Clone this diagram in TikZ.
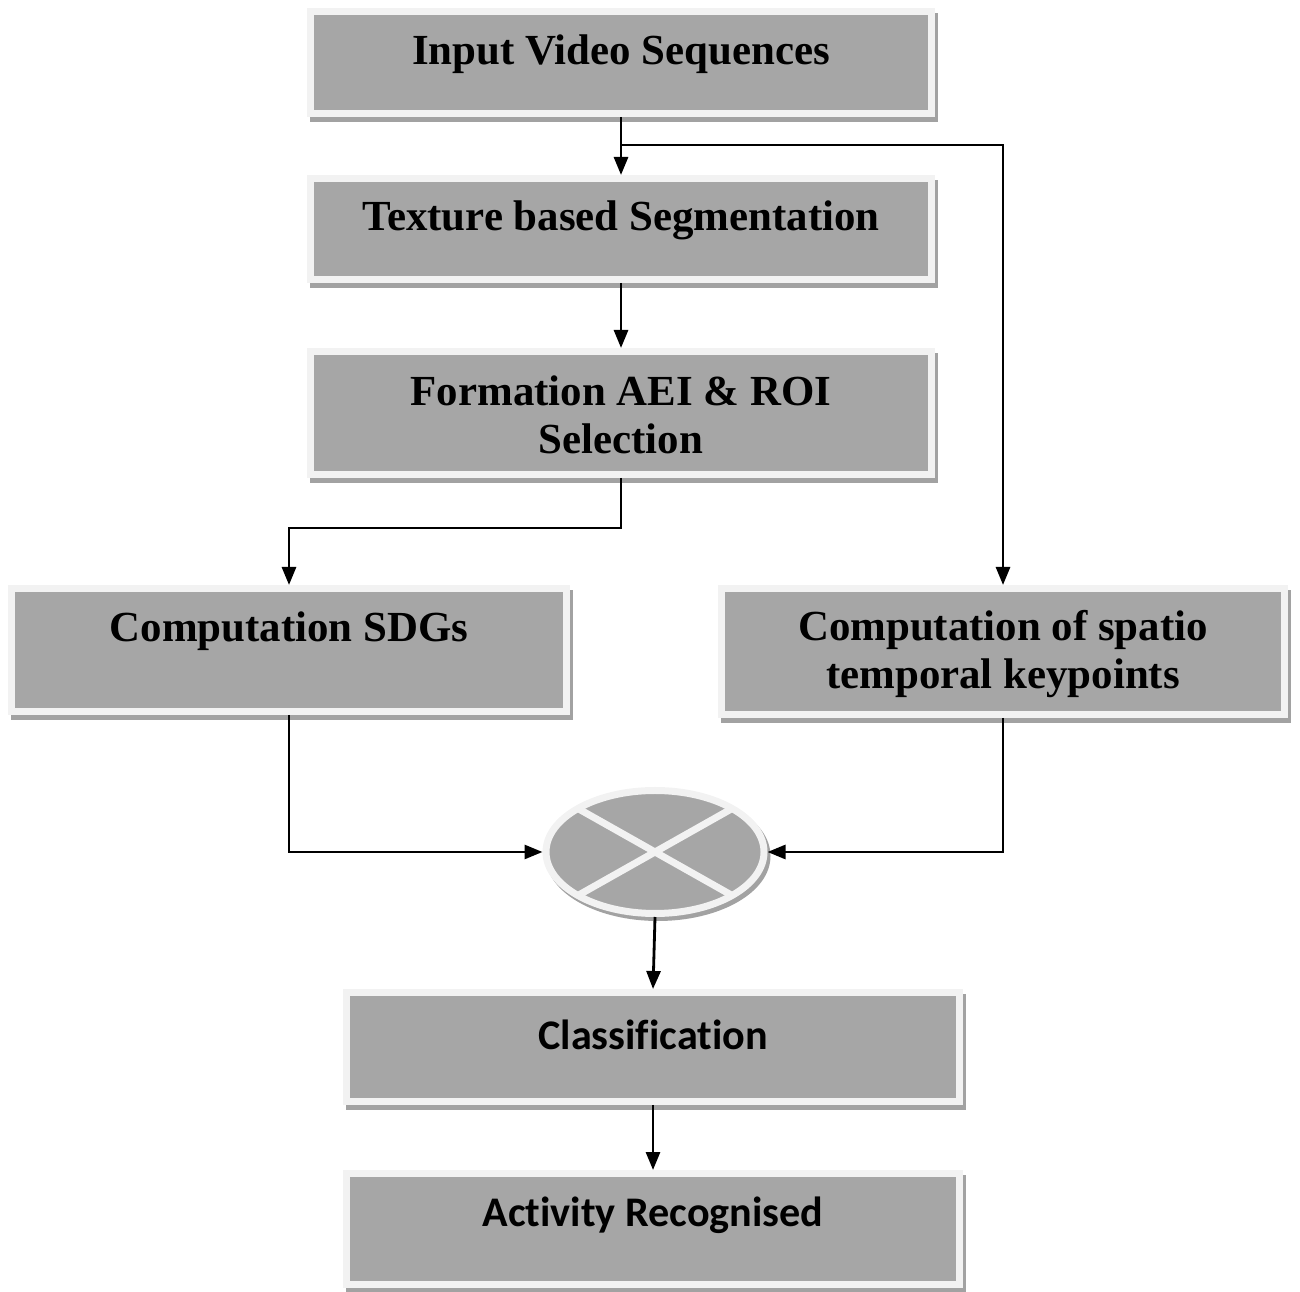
\documentclass[tikz,border=0pt]{standalone}
\usepackage{fontspec}
\setmainfont{Liberation Serif}
\newfontfamily\calibrifont[Ligatures=CommonOff]{Carlito}
\usepackage{xcolor}
\usetikzlibrary{arrows.meta,positioning,calc,shadows,shapes.geometric}
\definecolor{boxfill}{HTML}{A6A6A6}
\definecolor{boxrim}{HTML}{F2F2F2}
\definecolor{boxshade}{HTML}{A2A2A2}

\begin{document}
\begin{tikzpicture}[
    stepbox/.style={rectangle, fill=boxfill, draw=boxrim, line width=0.07cm,
        general shadow={fill=boxshade, draw=boxshade, line width=0.07cm,
            shadow xshift=0.03cm, shadow yshift=-0.05cm}},
    mixer/.style={ellipse, fill=boxfill, draw=boxrim, line width=0.07cm,
        minimum width=2.18cm, minimum height=1.23cm,
        general shadow={fill=boxshade, draw=boxshade, line width=0.07cm,
            shadow xshift=0.03cm, shadow yshift=-0.04cm}},
    boxtext/.style={font=\bfseries\fontsize{12.2}{13.7}\selectfont, align=center, inner sep=0pt},
    sanstext/.style={font=\calibrifont\bfseries\fontsize{12}{14}\selectfont, inner sep=0pt},
    flow/.style={-{Triangle[length=0.18cm,width=0.14cm]}, line width=0.8pt}
]
    \useasboundingbox (0,0) rectangle (13,12.91);

    % Pipeline boxes
    \node[stepbox, minimum width=6.21cm, minimum height=1.02cm] (b1) at (6.21,12.285) {};
    \node[boxtext] (t1) at (6.21,12.37) {Input Video Sequences};

    \node[stepbox, minimum width=6.21cm, minimum height=1.01cm] (b2) at (6.21,10.62) {};
    \node[boxtext] (t2) at (6.21,10.71) {Texture based Segmentation};

    \node[stepbox, minimum width=6.21cm, minimum height=1.23cm] (b3) at (6.21,8.78) {};
    \node[boxtext] (t3) at (6.21,8.76) {Formation AEI \& ROI\\Selection};

    \node[stepbox, minimum width=5.55cm, minimum height=1.23cm] (b4) at (2.89,6.41) {};
    \node[boxtext] (t4) at (2.89,6.60) {Computation SDGs};

    \node[stepbox, minimum width=5.63cm, minimum height=1.26cm] (b5) at (10.03,6.395) {};
    \node[boxtext] (t5) at (10.03,6.37) {Computation of spatio\\temporal keypoints};

    % Fusion
    \node[mixer] (mix) at (6.55,4.39) {};
    \draw[boxrim, line width=0.07cm] ($(mix.center)+(-0.78,0.44)$) -- ($(mix.center)+(0.78,-0.44)$);
    \draw[boxrim, line width=0.07cm] ($(mix.center)+(-0.78,-0.44)$) -- ($(mix.center)+(0.78,0.44)$);

    \node[stepbox, minimum width=6.13cm, minimum height=1.09cm] (b7) at (6.53,2.44) {};
    \node[sanstext] (t7) at (6.53,2.56) {Classification};

    \node[stepbox, minimum width=6.13cm, minimum height=1.11cm] (b8) at (6.53,0.62) {};
    \node[sanstext] (t8) at (6.53,0.76) {Activity Recognised};

    % Connectors
    \coordinate (split) at ($(b1.south)+(0,-0.28)$);
    \draw[flow] (b1.south) -- (b2.north);
    \draw[flow] (split) -| (b5.north);
    \draw[flow] (b2.south) -- (b3.north);
    \draw[flow] (b3.south) -- ++(0,-0.5) -| (b4.north);
    \draw[flow] (b4.south) |- (mix.west);
    \draw[flow] (b5.south) |- (mix.east);
    \draw[flow] (mix.south) -- (b7.north);
    \draw[flow] (b7.south) -- (b8.north);

\end{tikzpicture}
\end{document}
